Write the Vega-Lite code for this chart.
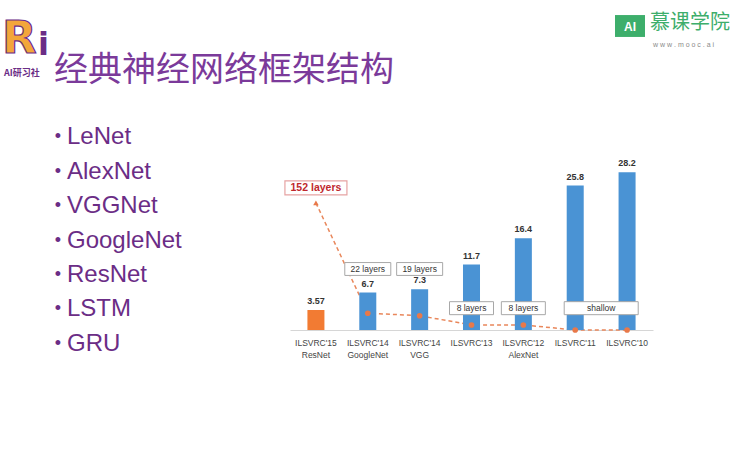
{
  "$schema": "https://vega.github.io/schema/vega-lite/v6.json",
  "background": "#ffffff",
  "padding": 0,
  "spacing": 0,
  "config": {"view": {"stroke": null}, "font": "Liberation Sans"},
  "datasets": {
    "models": [
      {"label": "ILSVRC'15 ResNet", "error": 3.57, "depth": 22.7, "layers": "152 layers"},
      {"label": "ILSVRC'14 GoogleNet", "error": 6.7, "depth": 3.0, "layers": "22 layers"},
      {"label": "ILSVRC'14 VGG", "error": 7.3, "depth": 2.55, "layers": "19 layers"},
      {"label": "ILSVRC'13", "error": 11.7, "depth": 0.9, "layers": "8 layers"},
      {"label": "ILSVRC'12 AlexNet", "error": 16.4, "depth": 0.9, "layers": "8 layers"},
      {"label": "ILSVRC'11", "error": 25.8, "depth": 0, "layers": "shallow"},
      {"label": "ILSVRC'10", "error": 28.2, "depth": 0, "layers": "shallow"}
    ],
    "bullets": [
      {"item": "LeNet"}, {"item": "AlexNet"}, {"item": "VGGNet"}, {"item": "GoogleNet"},
      {"item": "ResNet"}, {"item": "LSTM"}, {"item": "GRU"}
    ]
  },
  "vconcat": [
    {
      "width": 740,
      "height": 105,
      "data": {"values": [{}]},
      "encoding": {
        "x": {"datum": 0, "type": "quantitative", "scale": {"domain": [0, 740]}, "axis": null},
        "y": {"datum": 0, "type": "quantitative", "scale": {"domain": [0, 105], "reverse": true}, "axis": null}
      },
      "layer": [
        {
          "mark": {"type": "text", "text": "经典神经网络框架结构", "align": "left", "baseline": "middle", "fontSize": 34, "font": "Noto Sans CJK SC", "color": "#7B3A9A"},
          "encoding": {"x": {"datum": 54, "type": "quantitative"}, "y": {"datum": 71, "type": "quantitative"}}
        },
        {
          "mark": {"type": "text", "text": "R", "align": "left", "baseline": "middle", "fontSize": 45, "fontWeight": "bold", "font": "DejaVu Sans", "color": "#F3A63A", "stroke": "#6B2D86", "strokeWidth": 1.2},
          "encoding": {"x": {"datum": 2, "type": "quantitative"}, "y": {"datum": 39, "type": "quantitative"}}
        },
        {
          "mark": {"type": "text", "text": "i", "align": "left", "baseline": "middle", "fontSize": 32, "fontWeight": "bold", "font": "DejaVu Sans", "color": "#6B2D86"},
          "encoding": {"x": {"datum": 38, "type": "quantitative"}, "y": {"datum": 45, "type": "quantitative"}}
        },
        {
          "mark": {"type": "text", "text": "AI研习社", "align": "left", "baseline": "middle", "fontSize": 9, "fontWeight": "bold", "font": "Noto Sans CJK SC", "color": "#6B2D86"},
          "encoding": {"x": {"datum": 4, "type": "quantitative"}, "y": {"datum": 73, "type": "quantitative"}}
        },
        {
          "mark": {"type": "point", "shape": "M-1,-0.73H1V0.73H-1Z", "filled": true, "size": 900, "color": "#3DAE6B", "opacity": 1},
          "encoding": {"x": {"datum": 630, "type": "quantitative"}, "y": {"datum": 26, "type": "quantitative"}}
        },
        {
          "mark": {"type": "text", "text": "AI", "align": "center", "baseline": "middle", "fontSize": 12, "fontWeight": "bold", "color": "#ffffff"},
          "encoding": {"x": {"datum": 630, "type": "quantitative"}, "y": {"datum": 27, "type": "quantitative"}}
        },
        {
          "mark": {"type": "text", "text": "慕课学院", "align": "left", "baseline": "middle", "fontSize": 20, "font": "Noto Sans CJK SC", "color": "#3DAE6B"},
          "encoding": {"x": {"datum": 650, "type": "quantitative"}, "y": {"datum": 23, "type": "quantitative"}}
        },
        {
          "mark": {"type": "text", "text": "w w w . m o o c . a i", "align": "left", "baseline": "middle", "fontSize": 7, "color": "#8a8a8a"},
          "encoding": {"x": {"datum": 653, "type": "quantitative"}, "y": {"datum": 45, "type": "quantitative"}}
        }
      ]
    },
    {
      "spacing": 0,
      "hconcat": [
        {
          "width": 282,
          "height": 271,
          "data": {"name": "bullets"},
          "encoding": {
            "y": {"field": "item", "type": "nominal", "sort": null, "scale": {"type": "point", "padding": 0.93}, "axis": null}
          },
          "layer": [
            {
              "mark": {"type": "text", "text": "•", "align": "center", "baseline": "middle", "fontSize": 18, "color": "#6B2D86"},
              "encoding": {"x": {"datum": 58, "type": "quantitative", "scale": {"domain": [0, 282]}, "axis": null}}
            },
            {
              "mark": {"type": "text", "align": "left", "baseline": "middle", "fontSize": 24, "color": "#6B2D86"},
              "encoding": {
                "x": {"datum": 67, "type": "quantitative", "scale": {"domain": [0, 282]}, "axis": null},
                "text": {"field": "item"}
              }
            }
          ]
        },
        {
          "width": 363,
          "height": 225,
          "data": {"name": "models"},
          "encoding": {
            "x": {
              "field": "label", "type": "nominal", "sort": null,
              "scale": {"paddingInner": 0.672, "paddingOuter": 0.336},
              "axis": {"title": null, "labelAngle": 0, "ticks": false, "domainColor": "#d6d6d6", "labelExpr": "split(datum.label, ' ')", "labelFontSize": 8.5, "labelColor": "#444444", "labelPadding": 8, "labelLineHeight": 12}
            }
          },
          "layer": [
            {
              "mark": {"type": "line", "strokeDash": [4, 3], "color": "#E9875B", "strokeWidth": 1.5},
              "encoding": {"y": {"field": "depth", "type": "quantitative", "scale": {"domain": [0, 40.2], "nice": false}, "axis": null}}
            },
            {
              "mark": {"type": "bar"},
              "encoding": {
                "y": {"field": "error", "type": "quantitative", "scale": {"domain": [0, 40.2], "nice": false}, "axis": null},
                "color": {"condition": {"test": "datum.error < 4", "value": "#F27B33"}, "value": "#4A93D4"}
              }
            },
            {
              "transform": [{"filter": "datum.error > 4"}],
              "mark": {"type": "point", "filled": true, "size": 32, "color": "#E8794A", "opacity": 1},
              "encoding": {"y": {"field": "depth", "type": "quantitative"}}
            },
            {
              "transform": [{"filter": "datum.error < 4"}],
              "mark": {"type": "point", "shape": "triangle-up", "filled": true, "size": 30, "color": "#E8794A", "opacity": 1},
              "encoding": {"y": {"field": "depth", "type": "quantitative"}}
            },
            {
              "mark": {"type": "text", "baseline": "bottom", "dy": -4, "fontSize": 9, "fontWeight": "bold", "color": "#333333"},
              "encoding": {"y": {"field": "error", "type": "quantitative"}, "text": {"field": "error"}}
            },
            {
              "transform": [{"filter": "datum.error < 4"}],
              "layer": [
                {
                  "mark": {"type": "point", "shape": "M-1,-0.226H1V0.226H-1Z", "size": 3844, "filled": false, "fill": "#ffffff", "stroke": "#E6A3A3", "strokeWidth": 1.2, "opacity": 1, "fillOpacity": 1},
                  "encoding": {"y": {"datum": 25.4, "type": "quantitative"}}
                },
                {
                  "mark": {"type": "text", "baseline": "middle", "fontSize": 10.5, "fontWeight": "bold", "color": "#C0282D"},
                  "encoding": {"y": {"datum": 25.4, "type": "quantitative"}, "text": {"field": "layers"}}
                }
              ]
            },
            {
              "transform": [{"filter": "datum.error > 6 && datum.error < 8"}],
              "layer": [
                {
                  "mark": {"type": "point", "shape": "M-1,-0.28H1V0.28H-1Z", "size": 2116, "filled": false, "fill": "#ffffff", "stroke": "#a8a8a8", "strokeWidth": 1, "opacity": 1, "fillOpacity": 1},
                  "encoding": {"y": {"datum": 10.9, "type": "quantitative"}}
                },
                {
                  "mark": {"type": "text", "baseline": "middle", "fontSize": 8.5, "color": "#333333"},
                  "encoding": {"y": {"datum": 10.9, "type": "quantitative"}, "text": {"field": "layers"}}
                }
              ]
            },
            {
              "transform": [{"filter": "datum.error > 10 && datum.error < 20"}],
              "layer": [
                {
                  "mark": {"type": "point", "shape": "M-1,-0.295H1V0.295H-1Z", "size": 1936, "filled": false, "fill": "#ffffff", "stroke": "#a8a8a8", "strokeWidth": 1, "opacity": 1, "fillOpacity": 1},
                  "encoding": {"y": {"datum": 3.9, "type": "quantitative"}}
                },
                {
                  "mark": {"type": "text", "baseline": "middle", "fontSize": 8.5, "color": "#333333"},
                  "encoding": {"y": {"datum": 3.9, "type": "quantitative"}, "text": {"field": "layers"}}
                }
              ]
            },
            {
              "transform": [{"filter": "datum.error > 25 && datum.error < 27"}],
              "layer": [
                {
                  "mark": {"type": "point", "shape": "M-1,-0.176H1V0.176H-1Z", "size": 5476, "xOffset": 26, "filled": false, "fill": "#ffffff", "stroke": "#a8a8a8", "strokeWidth": 1, "opacity": 1, "fillOpacity": 1},
                  "encoding": {"y": {"datum": 3.9, "type": "quantitative"}}
                },
                {
                  "mark": {"type": "text", "baseline": "middle", "dx": 26, "fontSize": 8.5, "color": "#333333"},
                  "encoding": {"y": {"datum": 3.9, "type": "quantitative"}, "text": {"field": "layers"}}
                }
              ]
            }
          ]
        }
      ]
    }
  ]
}
